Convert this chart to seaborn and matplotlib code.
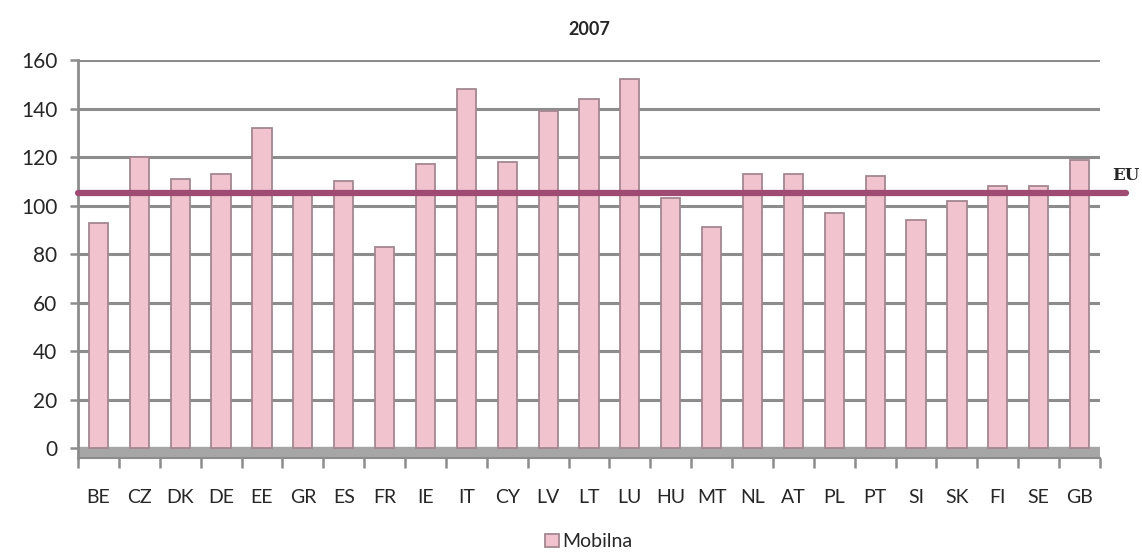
import matplotlib
matplotlib.use("Agg")
import matplotlib.pyplot as plt
import seaborn as sns
import pandas as pd

countries = ["BE", "CZ", "DK", "DE", "EE", "GR", "ES", "FR", "IE", "IT", "CY", "LV", "LT",
             "LU", "HU", "MT", "NL", "AT", "PL", "PT", "SI", "SK", "FI", "SE", "GB"]
mobilna = [93, 120, 111, 113, 132, 106, 110, 83, 117, 148, 118, 139, 144,
           152, 103, 91, 113, 113, 97, 112, 94, 102, 108, 108, 119]
eu_value = 105
title = "2007"
series_name = "Mobilna"
y_ticks = [0, 20, 40, 60, 80, 100, 120, 140, 160]

sns.set_theme(style="white")
plt.rcParams["font.family"] = ["Lato", "DejaVu Sans"]

df = pd.DataFrame({"country": countries, "value": mobilna})

fig = plt.figure(figsize=(11.42, 5.57), dpi=100)
ax = fig.add_axes([78 / 1142, (557 - 458) / 557, (1100 - 78) / 1142, (458 - 60) / 557])

sns.barplot(data=df, x="country", y="value", ax=ax, color="#F0C3CF",
            width=0.47, edgecolor="#A48790", linewidth=1.3, saturation=1,
            label=series_name, zorder=3)

ax.set_ylim(-4, 160)
ax.set_xlim(-0.5, len(countries) - 0.5)
ax.set_yticks(y_ticks)
ax.set_yticklabels([str(t) for t in y_ticks], fontsize=15)
ax.tick_params(axis="x", which="major", labelsize=14, length=0, pad=22)
ax.tick_params(axis="y", length=6, color="#8C8C8C", width=1.8, left=True, pad=9)
ax.set_xticks([i - 0.5 for i in range(len(countries) + 1)], minor=True)
ax.tick_params(axis="x", which="minor", length=7, color="#8C8C8C", width=1.8, bottom=True)

for t in y_ticks[1:]:
    ax.axhline(t, color="#8C8C8C", lw=2.2, zorder=1)
ax.axhspan(-4, 0.5, color="#A6A6A6", zorder=2)

for s in ["top", "right"]:
    ax.spines[s].set_visible(False)
ax.spines["left"].set_color("#8C8C8C")
ax.spines["left"].set_linewidth(2)
ax.spines["bottom"].set_color("#8C8C8C")
ax.spines["bottom"].set_linewidth(1.5)

ax.set_xlabel("")
ax.set_ylabel("")

ax.axhline(eu_value, xmin=0, xmax=1.025, color="#9E4A72", lw=4.5, clip_on=False, zorder=5)
fig.text(1140 / 1142, (557 - 176) / 557, "EU", family="DejaVu Serif", fontweight="bold",
         fontsize=12, ha="right", va="center")

ax.set_title(title, fontsize=13, fontweight="bold", pad=18)

leg = ax.legend(loc="upper center", bbox_to_anchor=(0.5, -0.145), frameon=False,
                fontsize=14, handlelength=0.7, handleheight=0.7, handletextpad=0.2)

fig.savefig("out.png", dpi=100)
